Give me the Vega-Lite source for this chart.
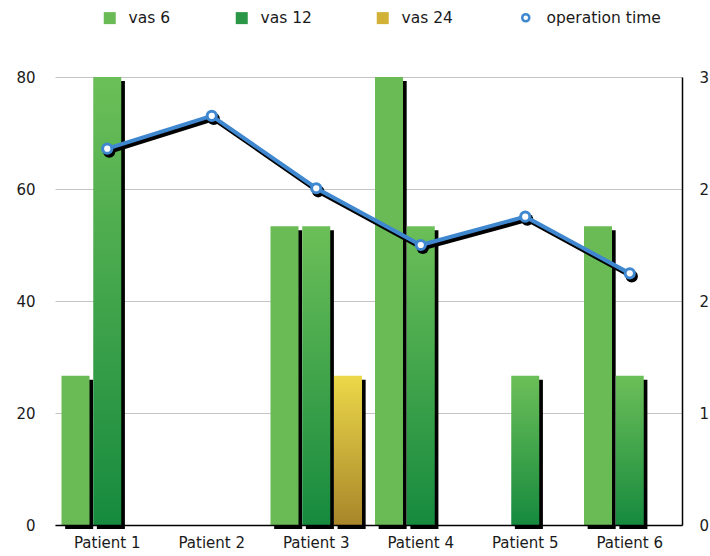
{
  "$schema": "https://vega.github.io/schema/vega-lite/v6.json",
  "width": 627,
  "height": 448,
  "autosize": {"type": "none"},
  "padding": {"left": 55, "top": 77, "right": 28, "bottom": 31},
  "background": "white",
  "config": {
    "view": {"stroke": null},
    "font": "DejaVu Sans",
    "axis": {"labelFont": "DejaVu Sans", "labelFontSize": 15, "labelColor": "#1a1a1a"}
  },
  "datasets": {
    "vas": [
      {"patient": "Patient 1", "series": "vas 6", "value": 26.67},
      {"patient": "Patient 1", "series": "vas 12", "value": 80},
      {"patient": "Patient 3", "series": "vas 6", "value": 53.33},
      {"patient": "Patient 3", "series": "vas 12", "value": 53.33},
      {"patient": "Patient 3", "series": "vas 24", "value": 26.67},
      {"patient": "Patient 4", "series": "vas 6", "value": 80},
      {"patient": "Patient 4", "series": "vas 12", "value": 53.33},
      {"patient": "Patient 5", "series": "vas 12", "value": 26.67},
      {"patient": "Patient 6", "series": "vas 6", "value": 53.33},
      {"patient": "Patient 6", "series": "vas 12", "value": 26.67}
    ],
    "op": [
      {"patient": "Patient 1", "time": 2.52},
      {"patient": "Patient  2", "time": 2.74},
      {"patient": "Patient 3", "time": 2.255},
      {"patient": "Patient 4", "time": 1.875},
      {"patient": "Patient 5", "time": 2.065},
      {"patient": "Patient 6", "time": 1.685}
    ]
  },
  "layer": [
    {
      "data": {"name": "vas"},
      "encoding": {
        "x": {
          "field": "patient", "type": "nominal",
          "scale": {"domain": ["Patient 1", "Patient  2", "Patient 3", "Patient 4", "Patient 5", "Patient 6"], "paddingInner": 0, "paddingOuter": 0},
          "axis": {"title": null, "labelAngle": 0, "ticks": false, "domainColor": "black", "domainWidth": 1.5, "labelPadding": 10, "grid": false, "zindex": 1}
        },
        "y": {
          "field": "value", "type": "quantitative",
          "scale": {"domain": [0, 80]},
          "axis": {"title": null, "values": [0, 20, 40, 60, 80], "ticks": false, "domain": false, "gridColor": "#c4c4c4", "labelPadding": 20}
        }
      },
      "layer": [
        {
          "mark": {"type": "bar", "color": "black", "yOffset": 4},
          "encoding": {
            "xOffset": {
              "field": "series", "type": "nominal",
              "scale": {"domain": ["vas 6", "vas 12", "vas 24"], "paddingInner": 0.117, "paddingOuter": 0.205, "align": 0.78}
            }
          }
        },
        {
          "mark": {"type": "bar"},
          "encoding": {
            "xOffset": {
              "field": "series", "type": "nominal",
              "scale": {"domain": ["vas 6", "vas 12", "vas 24"], "paddingInner": 0.117, "paddingOuter": 0.205, "align": 0.5}
            },
            "color": {
              "condition": [
                {"test": "datum.series === 'vas 12'", "value": {"gradient": "linear", "x1": 0, "y1": 0, "x2": 0, "y2": 1, "stops": [{"offset": 0, "color": "#6cbf58"}, {"offset": 1, "color": "#168a3e"}]}},
                {"test": "datum.series === 'vas 24'", "value": {"gradient": "linear", "x1": 0, "y1": 0, "x2": 0, "y2": 1, "stops": [{"offset": 0, "color": "#ecd849"}, {"offset": 1, "color": "#a8862a"}]}}
              ],
              "field": "series", "type": "nominal",
              "scale": {"domain": ["vas 6", "vas 12", "vas 24"], "range": ["#6abb55", "#2a9747", "#d2b236"]},
              "legend": {
                "title": null, "orient": "none", "legendX": 47, "legendY": -67, "direction": "horizontal",
                "symbolType": "square", "symbolSize": 144, "labelFont": "DejaVu Sans", "labelFontSize": 15.5, "labelColor": "#1a1a1a",
                "columnPadding": 63, "labelOffset": 11, "padding": 0, "symbolStrokeWidth": 0, "symbolOpacity": 1
              }
            }
          }
        }
      ],
      "resolve": {"scale": {"xOffset": "independent"}}
    },
    {
      "data": {"name": "op"},
      "encoding": {
        "x": {
          "field": "patient", "type": "nominal",
          "scale": {"domain": ["Patient 1", "Patient  2", "Patient 3", "Patient 4", "Patient 5", "Patient 6"], "paddingInner": 0, "paddingOuter": 0},
          "axis": {"title": null, "labelAngle": 0, "ticks": false, "domainColor": "black", "domainWidth": 1.5, "labelPadding": 10, "grid": false, "zindex": 1}
        },
        "y": {
          "field": "time", "type": "quantitative",
          "scale": {"domain": [0, 3]},
          "axis": {"orient": "right", "title": null, "values": [0, 0.75, 1.5, 2.25, 3], "format": ".0f", "ticks": false, "grid": false, "domainColor": "black", "domainWidth": 1.5, "labelPadding": 17}
        }
      },
      "layer": [
        {"mark": {"type": "line", "color": "black", "strokeWidth": 4.5, "xOffset": 2, "yOffset": 3}},
        {"mark": {"type": "point", "shape": "circle", "filled": true, "color": "black", "size": 150, "xOffset": 2, "yOffset": 3, "opacity": 1}},
        {"mark": {"type": "line", "color": "#3f88d0", "strokeWidth": 4}},
        {
          "mark": {"type": "point", "shape": "circle", "filled": false, "fill": "white", "strokeWidth": 3, "size": 85, "opacity": 1},
          "encoding": {
            "color": {
              "datum": "operation time", "type": "nominal",
              "scale": {"domain": ["operation time"], "range": ["#3f88d0"]},
              "legend": {
                "title": null, "orient": "none", "legendX": 463, "legendY": -67, "direction": "horizontal",
                "symbolType": "circle", "symbolSize": 50, "symbolStrokeWidth": 2.5, "symbolOpacity": 1,
                "labelFont": "DejaVu Sans", "labelFontSize": 15.5, "labelColor": "#1a1a1a", "labelOffset": 13, "padding": 0
              }
            }
          }
        }
      ]
    }
  ],
  "resolve": {"scale": {"y": "independent", "color": "independent"}}
}
